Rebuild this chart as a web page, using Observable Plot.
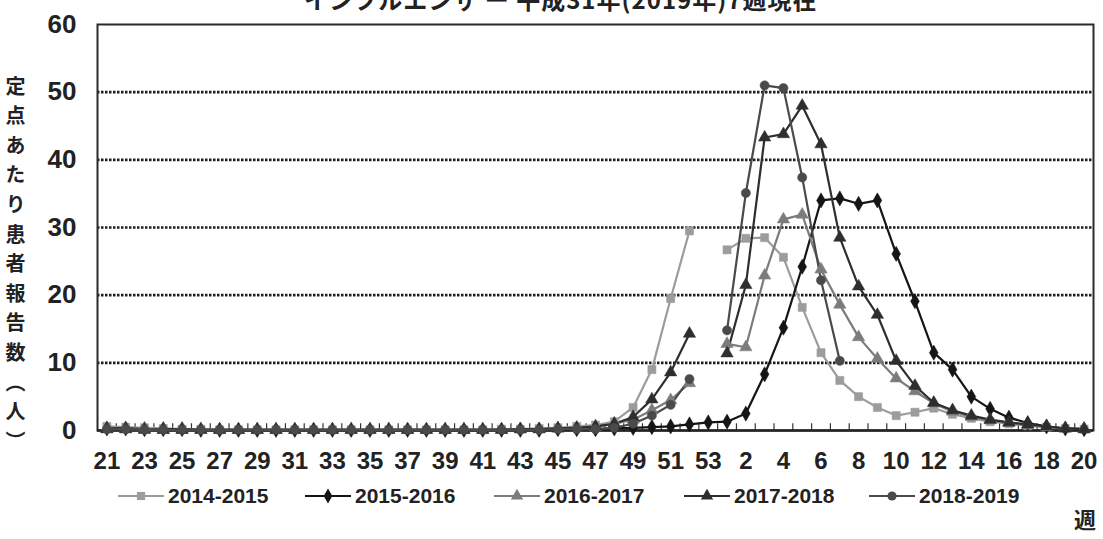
<!DOCTYPE html>
<html><head><meta charset="utf-8">
<script src="https://cdn.jsdelivr.net/npm/d3@7"></script>
<script src="https://cdn.jsdelivr.net/npm/@observablehq/plot@0.6"></script>
<style>
html,body{margin:0;padding:0;background:#fff;}
body{width:1103px;height:539px;overflow:hidden;position:relative;}
#title{position:absolute;top:-13px;left:304px;white-space:nowrap;font:bold 24px/24px "Noto Sans CJK JP",sans-serif;letter-spacing:1px;color:#222;}
#ylabel{position:absolute;left:4px;top:76px;writing-mode:vertical-rl;font:bold 20px/22px "Noto Sans CJK JP",sans-serif;letter-spacing:9.6px;color:#222;}
#chart{position:absolute;left:0;top:0;}
.leg{position:absolute;top:484px;display:flex;align-items:center;font-family:"Liberation Sans",Arial,sans-serif;font-weight:bold;font-size:21px;color:#222;}
.leg svg{margin-right:4px;}
#week{position:absolute;left:1074px;top:502px;font:bold 22px "Noto Sans CJK JP",sans-serif;color:#222;}
</style></head>
<body>
<div id="title">インフルエンザ ー 平成31年(2019年)7週現在</div>
<div id="ylabel">定点あたり患者報告数（人）</div>
<div id="chart"></div>
<div id="legend"></div>
<div id="week">週</div>
<script>
const weekLabels = [21,22,23,24,25,26,27,28,29,30,31,32,33,34,35,36,37,38,39,40,41,42,43,44,45,46,47,48,49,50,51,52,53,
  1,2,3,4,5,6,7,8,9,10,11,12,13,14,15,16,17,18,19,20];
const seasons = ["2014-2015","2015-2016","2016-2017","2017-2018","2018-2019"];
// weeks 21..53 then 1..20
const s2014 = [0.6,0.5,0.4,0.3,0.2,0.2,0.1,0.1,0.1,0.1,0.1,0.1,0.1,0.1,0.1,0.1,0.1,0.1,0.1,0.1,0.1,0.2,0.2,0.3,0.4,0.6,0.8,1.3,3.4,9.0,19.5,29.5,null,
  26.7,28.4,28.5,25.6,18.2,11.5,7.4,5.0,3.4,2.2,2.7,3.3,2.4,1.8,1.3,1.0,0.7,0.5,0.3,0.2];
const s2015 = [0.3,0.3,0.2,0.2,0.2,0.1,0.1,0.1,0.1,0.1,0.1,0.1,0.1,0.1,0.1,0.1,0.1,0.1,0.1,0.1,0.1,0.1,0.1,0.1,0.2,0.2,0.2,0.3,0.4,0.5,0.6,0.9,1.2,
  1.3,2.5,8.3,15.2,24.2,34.0,34.3,33.5,34.0,26.1,19.1,11.5,9.0,5.0,3.2,1.9,1.1,0.6,0.3,0.2];
const s2016 = [0.2,0.2,0.2,0.1,0.1,0.1,0.1,0.1,0.1,0.1,0.1,0.1,0.1,0.1,0.1,0.1,0.1,0.1,0.1,0.1,0.1,0.1,0.2,0.2,0.3,0.4,0.5,1.0,1.6,3.0,4.5,7.0,null,
  12.8,12.3,22.9,31.2,31.9,23.8,18.6,13.8,10.6,7.7,5.8,4.0,2.8,2.0,1.5,1.1,0.8,0.5,0.3,0.2];
const s2017 = [0.2,0.2,0.1,0.1,0.1,0.1,0.1,0.1,0.1,0.1,0.1,0.1,0.1,0.1,0.1,0.1,0.1,0.1,0.1,0.1,0.1,0.1,0.2,0.2,0.3,0.4,0.6,1.0,2.0,4.6,8.6,14.3,null,
  11.4,21.5,43.3,43.8,48.0,42.3,28.5,21.3,17.1,10.3,6.6,4.1,3.0,2.2,1.6,1.2,0.9,0.6,0.3,0.2];
const s2018 = [0.2,0.2,0.1,0.1,0.1,0.1,0.1,0.1,0.1,0.1,0.1,0.1,0.1,0.1,0.1,0.1,0.1,0.1,0.1,0.1,0.1,0.1,0.1,0.1,0.2,0.2,0.2,0.4,1.0,2.2,3.8,7.6,null,
  14.8,35.1,51.0,50.6,37.4,22.2,10.3,null,null,null,null,null,null,null,null,null,null,null,null,null];
const yTicks = [0,10,20,30,40,50,60];
const gridLines = [10,20,30,40,50];
const seasonColors = ["#9c9c9c","#151515","#7c7c7c","#2e2e2e","#4a4a4a"];
const seasonSymbols = ["square","diamond","triangle","triangle","circle"];

const allValues = [s2014,s2015,s2016,s2017,s2018];
const data = [];
allValues.forEach((vals,k)=>vals.forEach((v,i)=>data.push({season:seasons[k], i, v})));
const idx = weekLabels.map((_,i)=>i);
const boundaries = idx.slice(0,-1).map(i=>i+0.5);
const labelIdx = idx.filter(i=>i%2===0);
const numFont = '"Liberation Sans",Arial,sans-serif';

const chart = Plot.plot({
  width:1103, height:480,
  marginTop:24, marginBottom:50, marginLeft:97, marginRight:10,
  x:{type:"linear", domain:[-0.5, weekLabels.length-0.5], label:null},
  y:{domain:[0,60], label:null},
  color:{domain:seasons, range:seasonColors},
  symbol:{domain:seasons, range:seasonSymbols},
  marks:[
    Plot.ruleY(gridLines, {stroke:"#1e1e1e", strokeWidth:2.6, strokeDasharray:"2.5,1.5"}),
    Plot.ruleX(boundaries, {x:d=>d, y1:0, y2:1, stroke:"#333", strokeWidth:1.2}),
    Plot.frame({stroke:"#2a2a2a", strokeWidth:2}),
    Plot.ruleY([0], {stroke:"#222", strokeWidth:2.5}),
    Plot.line(data, {x:"i", y:"v", z:"season", stroke:"season", strokeWidth:2.2}),
    Plot.dot(data, {x:"i", y:"v", symbol:"season", fill:"season", stroke:"season", strokeWidth:0.5, r:4.6}),
    Plot.axisX(labelIdx, {tickFormat:i=>weekLabels[i], tickSize:0, tickPadding:21, fontSize:24, fontWeight:"bold", fontFamily:numFont, fill:"#222", label:null}),
    Plot.axisY(yTicks, {tickSize:0, tickPadding:21, fontSize:26, fontWeight:"bold", fontFamily:numFont, fill:"#222", label:null})
  ]
});
document.getElementById("chart").appendChild(chart);

// legend
const legend = document.getElementById("legend");
const legLefts = [118,305,494,684,869];
seasons.forEach((s,k)=>{
  const div = document.createElement("div");
  div.className = "leg";
  div.style.left = legLefts[k]+"px";
  const svg = d3.create("svg").attr("width",46).attr("height",20);
  svg.append("line").attr("x1",0).attr("x2",46).attr("y1",10).attr("y2",10)
    .attr("stroke",seasonColors[k]).attr("stroke-width",2);
  const symMap = {square:d3.symbolSquare, diamond:d3.symbolDiamond, triangle:d3.symbolTriangle, circle:d3.symbolCircle};
  svg.append("path").attr("transform","translate(23,10)")
    .attr("d", d3.symbol(symMap[seasonSymbols[k]], 66)()).attr("fill",seasonColors[k]);
  div.appendChild(svg.node());
  const t = document.createElement("span");
  t.textContent = s;
  div.appendChild(t);
  legend.appendChild(div);
});
</script>
</body></html>
